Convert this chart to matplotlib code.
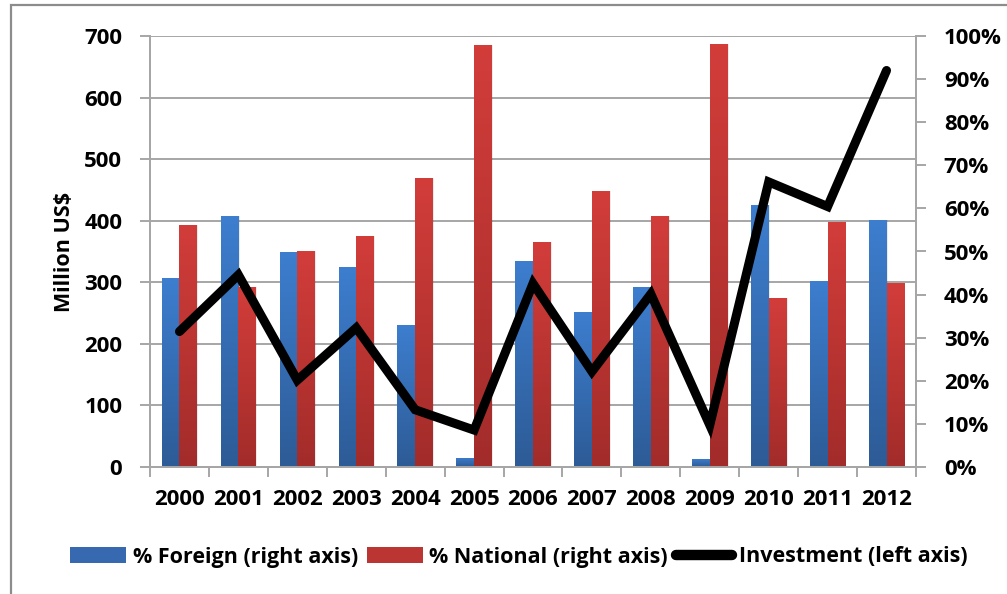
import numpy as np
import matplotlib.pyplot as plt
from matplotlib.colors import LinearSegmentedColormap
from matplotlib.patches import Rectangle, Patch
from matplotlib.lines import Line2D
from matplotlib.ticker import FixedLocator

plt.rcParams['font.family'] = ['Open Sans', 'DejaVu Sans']
plt.rcParams['font.weight'] = 'bold'

years = ['2000', '2001', '2002', '2003', '2004', '2005', '2006',
         '2007', '2008', '2009', '2010', '2011', '2012']
foreign_pct = [43.8, 58.2, 49.9, 46.3, 33.0, 2.2, 47.8, 36.0, 41.7, 1.9, 60.7, 43.2, 57.4]
national_pct = [56.2, 41.8, 50.1, 53.7, 67.0, 97.8, 52.2, 64.0, 58.3, 98.1, 39.3, 56.8, 42.6]
investment = [220, 312, 141, 226, 93, 60, 298, 155, 281, 68, 463, 423, 644]

left_ticks = [0, 100, 200, 300, 400, 500, 600, 700]
right_ticks = [0, 10, 20, 30, 40, 50, 60, 70, 80, 90, 100]

blue_top, blue_bot = '#3d7ecf', '#2d5b96'
red_top, red_bot = '#d23d3a', '#a22c2a'
grid_col = '#a6a6a6'

fig = plt.figure(figsize=(10.07, 5.94), dpi=100)
ax2 = fig.add_axes([150 / 1007, 127 / 594, 766 / 1007, 431 / 594])
ax = ax2.twinx()
# keep the investment line above the bars
ax.set_zorder(ax2.get_zorder() + 1)
ax.patch.set_visible(False)

x = np.arange(len(years))
w = 0.3
grad = np.linspace(0, 1, 128).reshape(-1, 1)


def gradient_bars(axis, xpos, vals, top, bot):
    cmap = LinearSegmentedColormap.from_list('g', [bot, top])
    bars = axis.bar(xpos, vals, w, color='none', edgecolor='none', zorder=2)
    for b in bars:
        x0, y0 = b.get_x(), b.get_y()
        # soft shadow on the right side
        axis.add_patch(Rectangle((x0 + 0.02, y0), b.get_width(), b.get_height(),
                                 facecolor='#000000', alpha=0.08, edgecolor='none', zorder=1.5))
        im = axis.imshow(grad, extent=[x0, x0 + b.get_width(), y0, y0 + b.get_height()],
                         origin='lower', cmap=cmap, aspect='auto', zorder=2)
        im.set_clip_path(b)
    return bars


gradient_bars(ax2, x - w / 2, foreign_pct, blue_top, blue_bot)
gradient_bars(ax2, x + w / 2, national_pct, red_top, red_bot)

# horizontal grid follows the left (million US$) scale
for t in left_ticks[1:]:
    ax2.axhline(t / left_ticks[-1] * 100, color=grid_col, lw=1.4, zorder=0)

ax.plot(x, investment, color='black', lw=6.5, solid_joinstyle='miter',
        solid_capstyle='round', zorder=5)

ax2.set_xlim(-0.5, len(years) - 0.5)
ax2.set_ylim(0, 100)
ax.set_ylim(0, 700)

ax2.yaxis.tick_right()
ax2.set_yticks(right_ticks)
ax2.set_yticklabels([f'{t}%' for t in right_ticks])
ax.yaxis.tick_left()
ax.set_yticks(left_ticks)
ax.set_ylabel('Million US$', fontsize=15.5, fontweight='bold', labelpad=7)
ax.yaxis.set_label_position('left')

ax2.set_xticks(x)
ax2.set_xticklabels(years)
ax2.xaxis.set_minor_locator(FixedLocator(np.arange(-0.5, len(years), 1.0)))
ax2.tick_params(axis='x', which='major', length=0, pad=16, labelsize=16)
ax2.tick_params(axis='x', which='minor', length=7, width=1.4, color=grid_col)
ax2.tick_params(axis='y', length=7, width=1.4, color=grid_col, pad=13, labelsize=16)
ax.tick_params(axis='y', length=7, width=1.4, color=grid_col, pad=13, labelsize=16)

for a in (ax, ax2):
    for s in a.spines.values():
        s.set_color(grid_col)
        s.set_linewidth(1.4)
    a.spines['top'].set_visible(False)

handles = [Patch(facecolor='#3669b0', edgecolor='none'),
           Patch(facecolor='#bb3532', edgecolor='none'),
           Line2D([0], [0], color='black', lw=7.5, solid_capstyle='round')]
labels = ['% Foreign (right axis)', '% National (right axis)', 'Investment (left axis)']
fig.legend(handles, labels, loc='center', bbox_to_anchor=(519 / 1007, 1 - 557 / 594),
           ncol=3, frameon=False, prop={'weight': 'bold', 'size': 15.5},
           handlelength=2.6, handleheight=0.8, handletextpad=0.3, columnspacing=0.4)

# outer chart frame
fig.add_artist(Rectangle((11 / 1007, -0.05), 1.1, 1 - 5 / 594 + 0.05, transform=fig.transFigure,
                         facecolor='none', edgecolor='#8c8c8c', lw=1.6))

fig.savefig('out.png', dpi=100)
